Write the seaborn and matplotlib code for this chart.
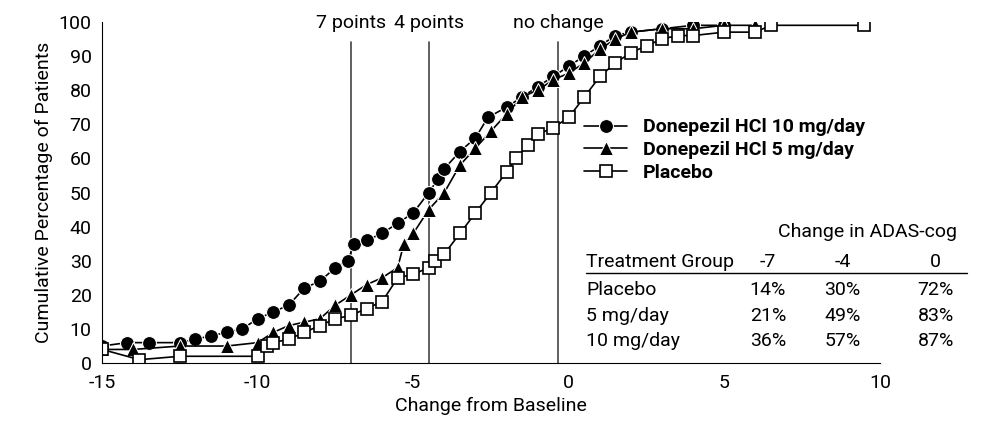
import numpy as np
import pandas as pd
import matplotlib
matplotlib.use("Agg")
import matplotlib.pyplot as plt
import seaborn as sns

# ============================
# Data
# ============================

x_10mg = [-15, -14.2, -13.5, -12.5, -12, -11.5, -11, -10.5, -10, -9.5, -9, -8.5, -8, -7.5, -7.1,
          -6.9, -6.5, -6, -5.5, -5, -4.5, -4.2, -4, -3.5, -3, -2.6, -2, -1.5, -1, -0.5, 0,
          0.5, 1, 1.5, 2, 3, 4, 5]
y_10mg = [5, 6, 6, 6, 7, 8, 9, 10, 13, 15, 17, 22, 24, 28, 30,
          35, 36, 38, 41, 44, 50, 54, 57, 62, 66, 72, 75, 78, 81, 84, 87,
          90, 93, 96, 97, 98, 99, 99]

x_5mg = [-15, -14, -12.5, -11, -10, -9.5, -9, -8.5, -8, -7.5, -7, -6.5, -6, -5.5, -5.3,
         -5, -4.5, -4, -3.5, -3, -2.5, -2, -1.5, -1, -0.5, 0, 0.5, 1, 1.5, 2, 3, 4, 5, 6]
y_5mg = [4, 4, 5, 5, 6, 9, 11, 12, 13, 17, 20, 23, 25, 28, 35,
         38, 45, 50, 58, 63, 68, 73, 78, 80, 83, 85, 88, 92, 95, 97, 98, 98, 99, 99]

x_pbo = [-15, -13.8, -12.5, -10, -9.7, -9.5, -9, -8.5, -8, -7.5, -7, -6.5, -6, -5.5, -5,
         -4.5, -4.3, -4, -3.5, -3, -2.5, -2, -1.7, -1.3, -1, -0.5, 0, 0.5, 1, 1.5, 2,
         2.5, 3, 3.5, 4, 5, 6, 6.5, 9.5]
y_pbo = [4, 1, 2, 2, 5, 6, 7, 9, 11, 13, 14, 16, 18, 25, 26,
         28, 30, 32, 38, 44, 50, 56, 60, 64, 67, 69, 72, 78, 84, 88, 91,
         93, 95, 96, 96, 97, 97, 99, 99]

ref_x = [-7, -4.5, -0.35]
ref_labels = ["7 points", "4 points", "no change"]

table_cols = ["-7", "-4", "0"]
table_rows = ["Placebo", "5 mg/day", "10 mg/day"]
table_vals = [["14%", "30%", "72%"],
              ["21%", "49%", "83%"],
              ["36%", "57%", "87%"]]

# ============================
# Plot
# ============================

sns.set_style("white")
plt.rcParams["font.family"] = ["Roboto", "DejaVu Sans"]
plt.rcParams["axes.unicode_minus"] = False
plt.rcParams["text.color"] = "black"
plt.rcParams["axes.labelcolor"] = "black"
plt.rcParams["xtick.color"] = "black"
plt.rcParams["ytick.color"] = "black"

FS = 14

fig = plt.figure(figsize=(9.82, 4.38), dpi=100)
ax = fig.add_axes([0.104, 0.171, 0.792, 0.779])

sns.lineplot(x=x_10mg, y=y_10mg, ax=ax, color="black", marker="o", markersize=10,
             linewidth=1.2, label="Donepezil HCl 10 mg/day", sort=False, estimator=None)
sns.lineplot(x=x_5mg, y=y_5mg, ax=ax, color="black", marker="^", markersize=10,
             linewidth=1.2, label="Donepezil HCl 5 mg/day", sort=False, estimator=None)
sns.lineplot(x=x_pbo, y=y_pbo, ax=ax, color="black", marker="s", markersize=9,
             markerfacecolor="white", markeredgecolor="black", markeredgewidth=1.2,
             linewidth=1.2, label="Placebo", sort=False, estimator=None)

for xv, lab in zip(ref_x, ref_labels):
    ax.plot([xv, xv], [0, 94], color="#444444", linewidth=1.2, zorder=0)
    ax.text(xv, 97, lab, ha="center", va="bottom", fontsize=FS)

ax.set_xlim(-15, 10)
ax.set_ylim(0, 100)
ax.set_xticks([-15, -10, -5, 0, 5, 10])
ax.set_yticks(range(0, 101, 10))
ax.tick_params(direction="inout", length=8, labelsize=FS, width=1)
ax.set_xlabel("Change from Baseline", fontsize=FS)
ax.set_ylabel("Cumulative Percentage of Patients", fontsize=FS)
for s in ["top", "right"]:
    ax.spines[s].set_visible(False)
for s in ["left", "bottom"]:
    ax.spines[s].set_color("black")

leg = ax.legend(loc="upper left", bbox_to_anchor=(0.61, 0.74), frameon=False,
                prop={"weight": "bold", "size": FS},
                handlelength=2.2, labelspacing=0.25, borderaxespad=0)

# ============================
# Table
# ============================

col_x = [6.4, 8.8, 11.8]
ax.text(9.6, 38.4, "Change in ADAS-cog", ha="center", va="center", fontsize=FS, clip_on=False)
ax.text(0.55, 29.6, "Treatment Group", ha="left", va="center", fontsize=FS)
for cx, c in zip(col_x, table_cols):
    ax.text(cx, 29.6, c, ha="center", va="center", fontsize=FS, clip_on=False)
ax.plot([0.55, 12.8], [26.5, 26.5], color="black", linewidth=1, clip_on=False)
row_y = [21.4, 13.8, 6.5]
for ry, rname, vals in zip(row_y, table_rows, table_vals):
    ax.text(0.55, ry, rname, ha="left", va="center", fontsize=FS)
    for cx, v in zip(col_x, vals):
        ax.text(cx, ry, v, ha="center", va="center", fontsize=FS, clip_on=False)

plt.savefig("out.png", dpi=100)
